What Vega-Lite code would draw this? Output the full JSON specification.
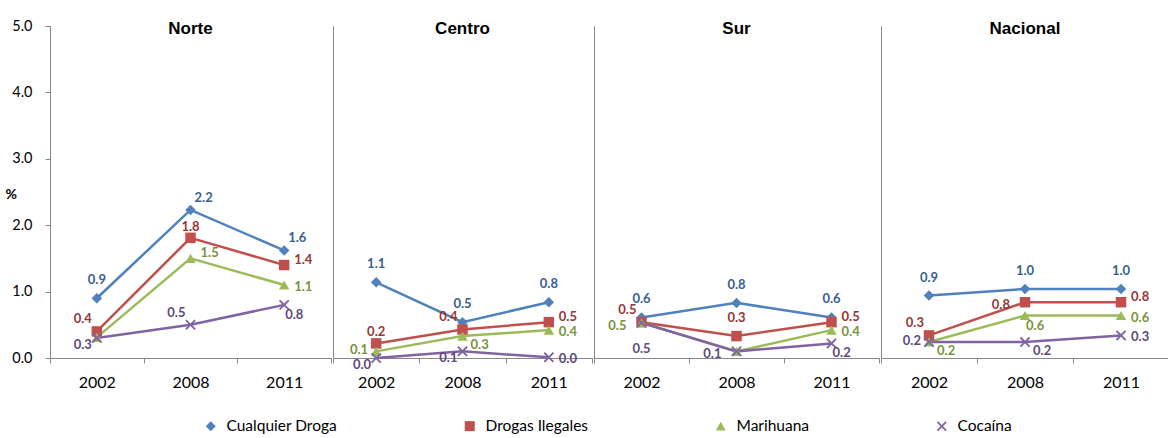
{
  "$schema": "https://vega.github.io/schema/vega-lite/v6.json",
  "background": "white",
  "padding": {"left": 5, "top": 18, "right": 0, "bottom": 0},
  "params": [
    {"name": "grp", "value": {
      "Norte|Cu|2002": "A", "Norte|Cu|2008": "AR", "Norte|Cu|2011": "AR",
      "Norte|Dr|2002": "AL", "Norte|Dr|2008": "A2", "Norte|Dr|2011": "RU",
      "Norte|Ma|2002": "H", "Norte|Ma|2008": "RU", "Norte|Ma|2011": "R",
      "Norte|Co|2002": "LB", "Norte|Co|2008": "AL", "Norte|Co|2011": "BR",
      "Centro|Cu|2002": "A", "Centro|Cu|2008": "A", "Centro|Cu|2011": "A",
      "Centro|Dr|2002": "A2", "Centro|Dr|2008": "AL", "Centro|Dr|2011": "RU",
      "Centro|Ma|2002": "L", "Centro|Ma|2008": "RB", "Centro|Ma|2011": "R",
      "Centro|Co|2002": "LB", "Centro|Co|2008": "LB", "Centro|Co|2011": "R",
      "Sur|Cu|2002": "A", "Sur|Cu|2008": "A", "Sur|Cu|2011": "A",
      "Sur|Dr|2002": "AL", "Sur|Dr|2008": "A", "Sur|Dr|2011": "RU",
      "Sur|Ma|2002": "LL", "Sur|Ma|2008": "H", "Sur|Ma|2011": "R",
      "Sur|Co|2002": "BB", "Sur|Co|2008": "LL", "Sur|Co|2011": "BR",
      "Nacional|Cu|2002": "A", "Nacional|Cu|2008": "A", "Nacional|Cu|2011": "A",
      "Nacional|Dr|2002": "AL", "Nacional|Dr|2008": "LL", "Nacional|Dr|2011": "RU",
      "Nacional|Ma|2002": "RB", "Nacional|Ma|2008": "BR", "Nacional|Ma|2011": "R",
      "Nacional|Co|2002": "L", "Nacional|Co|2008": "RB", "Nacional|Co|2011": "R"
    }},
    {"name": "off", "value": {
      "A": ["center", 0, -18], "A2": ["center", 0, -11], "AR": ["left", 4, -12],
      "AL": ["right", -5, -12], "R": ["left", 10, 2], "RU": ["left", 10, -5], "RB": ["left", 8, 9],
      "BR": ["left", 1, 10], "BB": ["center", 0, 26], "L": ["right", -8, -1],
      "LL": ["right", -15, 3], "LB": ["right", -5, 7], "H": ["left", 0, 0]
    }},
    {"name": "dark", "value": {
      "Cualquier Droga": "#376092", "Drogas Ilegales": "#953735",
      "Marihuana": "#77933C", "Cocaína": "#5F497A"
    }}
  ],
  "data": {"values": [
    {"region": "Norte", "serie": "Cualquier Droga", "anio": "2002", "pct": 0.9},
    {"region": "Norte", "serie": "Cualquier Droga", "anio": "2008", "pct": 2.23},
    {"region": "Norte", "serie": "Cualquier Droga", "anio": "2011", "pct": 1.62},
    {"region": "Norte", "serie": "Drogas Ilegales", "anio": "2002", "pct": 0.4},
    {"region": "Norte", "serie": "Drogas Ilegales", "anio": "2008", "pct": 1.81},
    {"region": "Norte", "serie": "Drogas Ilegales", "anio": "2011", "pct": 1.4},
    {"region": "Norte", "serie": "Marihuana", "anio": "2002", "pct": 0.31},
    {"region": "Norte", "serie": "Marihuana", "anio": "2008", "pct": 1.5},
    {"region": "Norte", "serie": "Marihuana", "anio": "2011", "pct": 1.1},
    {"region": "Norte", "serie": "Cocaína", "anio": "2002", "pct": 0.3},
    {"region": "Norte", "serie": "Cocaína", "anio": "2008", "pct": 0.5},
    {"region": "Norte", "serie": "Cocaína", "anio": "2011", "pct": 0.8},
    {"region": "Centro", "serie": "Cualquier Droga", "anio": "2002", "pct": 1.14},
    {"region": "Centro", "serie": "Cualquier Droga", "anio": "2008", "pct": 0.54},
    {"region": "Centro", "serie": "Cualquier Droga", "anio": "2011", "pct": 0.84},
    {"region": "Centro", "serie": "Drogas Ilegales", "anio": "2002", "pct": 0.22},
    {"region": "Centro", "serie": "Drogas Ilegales", "anio": "2008", "pct": 0.43},
    {"region": "Centro", "serie": "Drogas Ilegales", "anio": "2011", "pct": 0.54},
    {"region": "Centro", "serie": "Marihuana", "anio": "2002", "pct": 0.1},
    {"region": "Centro", "serie": "Marihuana", "anio": "2008", "pct": 0.33},
    {"region": "Centro", "serie": "Marihuana", "anio": "2011", "pct": 0.42},
    {"region": "Centro", "serie": "Cocaína", "anio": "2002", "pct": 0.0},
    {"region": "Centro", "serie": "Cocaína", "anio": "2008", "pct": 0.1},
    {"region": "Centro", "serie": "Cocaína", "anio": "2011", "pct": 0.01},
    {"region": "Sur", "serie": "Cualquier Droga", "anio": "2002", "pct": 0.61},
    {"region": "Sur", "serie": "Cualquier Droga", "anio": "2008", "pct": 0.83},
    {"region": "Sur", "serie": "Cualquier Droga", "anio": "2011", "pct": 0.61},
    {"region": "Sur", "serie": "Drogas Ilegales", "anio": "2002", "pct": 0.54},
    {"region": "Sur", "serie": "Drogas Ilegales", "anio": "2008", "pct": 0.33},
    {"region": "Sur", "serie": "Drogas Ilegales", "anio": "2011", "pct": 0.54},
    {"region": "Sur", "serie": "Marihuana", "anio": "2002", "pct": 0.53},
    {"region": "Sur", "serie": "Marihuana", "anio": "2008", "pct": 0.1},
    {"region": "Sur", "serie": "Marihuana", "anio": "2011", "pct": 0.42},
    {"region": "Sur", "serie": "Cocaína", "anio": "2002", "pct": 0.53},
    {"region": "Sur", "serie": "Cocaína", "anio": "2008", "pct": 0.1},
    {"region": "Sur", "serie": "Cocaína", "anio": "2011", "pct": 0.22},
    {"region": "Nacional", "serie": "Cualquier Droga", "anio": "2002", "pct": 0.94},
    {"region": "Nacional", "serie": "Cualquier Droga", "anio": "2008", "pct": 1.04},
    {"region": "Nacional", "serie": "Cualquier Droga", "anio": "2011", "pct": 1.04},
    {"region": "Nacional", "serie": "Drogas Ilegales", "anio": "2002", "pct": 0.34},
    {"region": "Nacional", "serie": "Drogas Ilegales", "anio": "2008", "pct": 0.84},
    {"region": "Nacional", "serie": "Drogas Ilegales", "anio": "2011", "pct": 0.84},
    {"region": "Nacional", "serie": "Marihuana", "anio": "2002", "pct": 0.24},
    {"region": "Nacional", "serie": "Marihuana", "anio": "2008", "pct": 0.64},
    {"region": "Nacional", "serie": "Marihuana", "anio": "2011", "pct": 0.64},
    {"region": "Nacional", "serie": "Cocaína", "anio": "2002", "pct": 0.24},
    {"region": "Nacional", "serie": "Cocaína", "anio": "2008", "pct": 0.24},
    {"region": "Nacional", "serie": "Cocaína", "anio": "2011", "pct": 0.34}
  ]},
  "spacing": 0,
  "hconcat": [
    {
      "width": 281, "height": 332,
      "transform": [{"filter": "datum.region == 'Norte'"}],
      "encoding": {
        "x": {"field": "anio", "type": "ordinal", "scale": {"type": "band", "paddingInner": 0, "paddingOuter": 0}, "axis": {"title": null}},
        "y": {"field": "pct", "type": "quantitative", "scale": {"domain": [0, 5], "nice": false},
          "axis": {"values": [0, 1, 2, 3, 4, 5], "format": ".1f", "title": "%", "titleAngle": 0, "titleFont": "Lato", "titleFontWeight": "bold", "titleFontSize": 14, "titleAlign": "left", "titleBaseline": "middle", "titleX": -45, "titleY": 168, "tickSize": 5, "labelPadding": 13, "labelFontSize": 14.5}}
      },
      "layer": [
        {"mark": {"type": "line", "strokeWidth": 2.5},
         "encoding": {"color": {"field": "serie", "type": "nominal", "scale": {"domain": ["Cualquier Droga", "Drogas Ilegales", "Marihuana", "Cocaína"], "range": ["#4F81BD", "#C0504D", "#9BBB59", "#8064A2"]}}}},
        {"mark": {"type": "point", "filled": true, "size": 110, "opacity": 1},
         "encoding": {"color": {"field": "serie", "type": "nominal"},
           "shape": {"field": "serie", "type": "nominal", "scale": {"domain": ["Cualquier Droga", "Drogas Ilegales", "Marihuana", "Cocaína"], "range": ["diamond", "square", "triangle-up", "M-1,-0.75L-0.75,-1L0,-0.25L0.75,-1L1,-0.75L0.25,0L1,0.75L0.75,1L0,0.25L-0.75,1L-1,0.75L-0.25,0Z"]}}}},
        {"transform": [{"filter": "grp[datum.region+'|'+substring(datum.serie,0,2)+'|'+datum.anio] != 'H'"}],
         "mark": {"type": "text", "font": "Lato", "fontWeight": "bold", "fontSize": 13, "baseline": "middle",
           "align": {"expr": "off[grp[datum.region+'|'+substring(datum.serie,0,2)+'|'+datum.anio]][0]"},
           "dx": {"expr": "off[grp[datum.region+'|'+substring(datum.serie,0,2)+'|'+datum.anio]][1]"},
           "dy": {"expr": "off[grp[datum.region+'|'+substring(datum.serie,0,2)+'|'+datum.anio]][2]"},
           "fill": {"expr": "dark[datum.serie]"}},
         "encoding": {"text": {"field": "pct", "type": "quantitative", "format": ".1f"}}},
        {"transform": [{"filter": "datum.serie == 'Cualquier Droga' && datum.anio == '2008'"}],
         "mark": {"type": "text", "font": "Liberation Sans", "fontWeight": "bold", "fontSize": 17, "baseline": "middle", "dy": 3, "color": "#000000"},
         "encoding": {"y": {"datum": 5}, "text": {"field": "region"}}}
      ]
    },
    {
      "width": 259, "height": 332,
      "transform": [{"filter": "datum.region == 'Centro'"}],
      "encoding": {
        "x": {"field": "anio", "type": "ordinal", "scale": {"type": "band", "paddingInner": 0, "paddingOuter": 0}, "axis": {"title": null}},
        "y": {"field": "pct", "type": "quantitative", "scale": {"domain": [0, 5], "nice": false},
          "axis": {"labels": false, "ticks": false, "title": null}}
      },
      "layer": [
        {"mark": {"type": "line", "strokeWidth": 2.5},
         "encoding": {"color": {"field": "serie", "type": "nominal", "scale": {"domain": ["Cualquier Droga", "Drogas Ilegales", "Marihuana", "Cocaína"], "range": ["#4F81BD", "#C0504D", "#9BBB59", "#8064A2"]}}}},
        {"mark": {"type": "point", "filled": true, "size": 110, "opacity": 1},
         "encoding": {"color": {"field": "serie", "type": "nominal"},
           "shape": {"field": "serie", "type": "nominal", "scale": {"domain": ["Cualquier Droga", "Drogas Ilegales", "Marihuana", "Cocaína"], "range": ["diamond", "square", "triangle-up", "M-1,-0.75L-0.75,-1L0,-0.25L0.75,-1L1,-0.75L0.25,0L1,0.75L0.75,1L0,0.25L-0.75,1L-1,0.75L-0.25,0Z"]}}}},
        {"transform": [{"filter": "grp[datum.region+'|'+substring(datum.serie,0,2)+'|'+datum.anio] != 'H'"}],
         "mark": {"type": "text", "font": "Lato", "fontWeight": "bold", "fontSize": 13, "baseline": "middle",
           "align": {"expr": "off[grp[datum.region+'|'+substring(datum.serie,0,2)+'|'+datum.anio]][0]"},
           "dx": {"expr": "off[grp[datum.region+'|'+substring(datum.serie,0,2)+'|'+datum.anio]][1]"},
           "dy": {"expr": "off[grp[datum.region+'|'+substring(datum.serie,0,2)+'|'+datum.anio]][2]"},
           "fill": {"expr": "dark[datum.serie]"}},
         "encoding": {"text": {"field": "pct", "type": "quantitative", "format": ".1f"}}},
        {"transform": [{"filter": "datum.serie == 'Cualquier Droga' && datum.anio == '2008'"}],
         "mark": {"type": "text", "font": "Liberation Sans", "fontWeight": "bold", "fontSize": 17, "baseline": "middle", "dy": 3, "color": "#000000"},
         "encoding": {"y": {"datum": 5}, "text": {"field": "region"}}}
      ]
    },
    {
      "width": 285, "height": 332,
      "transform": [{"filter": "datum.region == 'Sur'"}],
      "encoding": {
        "x": {"field": "anio", "type": "ordinal", "scale": {"type": "band", "paddingInner": 0, "paddingOuter": 0}, "axis": {"title": null}},
        "y": {"field": "pct", "type": "quantitative", "scale": {"domain": [0, 5], "nice": false},
          "axis": {"labels": false, "ticks": false, "title": null}}
      },
      "layer": [
        {"mark": {"type": "line", "strokeWidth": 2.5},
         "encoding": {"color": {"field": "serie", "type": "nominal", "scale": {"domain": ["Cualquier Droga", "Drogas Ilegales", "Marihuana", "Cocaína"], "range": ["#4F81BD", "#C0504D", "#9BBB59", "#8064A2"]}}}},
        {"mark": {"type": "point", "filled": true, "size": 110, "opacity": 1},
         "encoding": {"color": {"field": "serie", "type": "nominal"},
           "shape": {"field": "serie", "type": "nominal", "scale": {"domain": ["Cualquier Droga", "Drogas Ilegales", "Marihuana", "Cocaína"], "range": ["diamond", "square", "triangle-up", "M-1,-0.75L-0.75,-1L0,-0.25L0.75,-1L1,-0.75L0.25,0L1,0.75L0.75,1L0,0.25L-0.75,1L-1,0.75L-0.25,0Z"]}}}},
        {"transform": [{"filter": "grp[datum.region+'|'+substring(datum.serie,0,2)+'|'+datum.anio] != 'H'"}],
         "mark": {"type": "text", "font": "Lato", "fontWeight": "bold", "fontSize": 13, "baseline": "middle",
           "align": {"expr": "off[grp[datum.region+'|'+substring(datum.serie,0,2)+'|'+datum.anio]][0]"},
           "dx": {"expr": "off[grp[datum.region+'|'+substring(datum.serie,0,2)+'|'+datum.anio]][1]"},
           "dy": {"expr": "off[grp[datum.region+'|'+substring(datum.serie,0,2)+'|'+datum.anio]][2]"},
           "fill": {"expr": "dark[datum.serie]"}},
         "encoding": {"text": {"field": "pct", "type": "quantitative", "format": ".1f"}}},
        {"transform": [{"filter": "datum.serie == 'Cualquier Droga' && datum.anio == '2008'"}],
         "mark": {"type": "text", "font": "Liberation Sans", "fontWeight": "bold", "fontSize": 17, "baseline": "middle", "dy": 3, "color": "#000000"},
         "encoding": {"y": {"datum": 5}, "text": {"field": "region"}}}
      ]
    },
    {
      "width": 288, "height": 332,
      "transform": [{"filter": "datum.region == 'Nacional'"}],
      "encoding": {
        "x": {"field": "anio", "type": "ordinal", "scale": {"type": "band", "paddingInner": 0, "paddingOuter": 0}, "axis": {"title": null}},
        "y": {"field": "pct", "type": "quantitative", "scale": {"domain": [0, 5], "nice": false},
          "axis": {"labels": false, "ticks": false, "title": null}}
      },
      "layer": [
        {"mark": {"type": "line", "strokeWidth": 2.5},
         "encoding": {"color": {"field": "serie", "type": "nominal", "scale": {"domain": ["Cualquier Droga", "Drogas Ilegales", "Marihuana", "Cocaína"], "range": ["#4F81BD", "#C0504D", "#9BBB59", "#8064A2"]}}}},
        {"mark": {"type": "point", "filled": true, "size": 110, "opacity": 1},
         "encoding": {"color": {"field": "serie", "type": "nominal"},
           "shape": {"field": "serie", "type": "nominal", "scale": {"domain": ["Cualquier Droga", "Drogas Ilegales", "Marihuana", "Cocaína"], "range": ["diamond", "square", "triangle-up", "M-1,-0.75L-0.75,-1L0,-0.25L0.75,-1L1,-0.75L0.25,0L1,0.75L0.75,1L0,0.25L-0.75,1L-1,0.75L-0.25,0Z"]}}}},
        {"transform": [{"filter": "grp[datum.region+'|'+substring(datum.serie,0,2)+'|'+datum.anio] != 'H'"}],
         "mark": {"type": "text", "font": "Lato", "fontWeight": "bold", "fontSize": 13, "baseline": "middle",
           "align": {"expr": "off[grp[datum.region+'|'+substring(datum.serie,0,2)+'|'+datum.anio]][0]"},
           "dx": {"expr": "off[grp[datum.region+'|'+substring(datum.serie,0,2)+'|'+datum.anio]][1]"},
           "dy": {"expr": "off[grp[datum.region+'|'+substring(datum.serie,0,2)+'|'+datum.anio]][2]"},
           "fill": {"expr": "dark[datum.serie]"}},
         "encoding": {"text": {"field": "pct", "type": "quantitative", "format": ".1f"}}},
        {"transform": [{"filter": "datum.serie == 'Cualquier Droga' && datum.anio == '2008'"}],
         "mark": {"type": "text", "font": "Liberation Sans", "fontWeight": "bold", "fontSize": 17, "baseline": "middle", "dy": 3, "color": "#000000"},
         "encoding": {"y": {"datum": 5}, "text": {"field": "region"}}}
      ]
    }
  ],
  "config": {
    "font": "Lato",
    "view": {"stroke": null},
    "concat": {"spacing": 0},
    "axis": {"domainColor": "#878787", "tickColor": "#878787", "grid": false, "labelFont": "Lato", "labelFontSize": 14, "labelColor": "#000000"},
    "axisX": {"tickSize": 5, "labelPadding": 11, "labelAngle": 0, "tickBand": "extent", "labelFontSize": 16},
    "legend": {"orient": "none", "legendX": 153, "legendY": 392, "direction": "horizontal", "title": null, "labelFont": "Lato", "labelFontSize": 15.5, "labelColor": "#000000", "symbolSize": 100, "symbolStrokeWidth": 0, "columnPadding": 124, "labelOffset": 8}
  }
}
